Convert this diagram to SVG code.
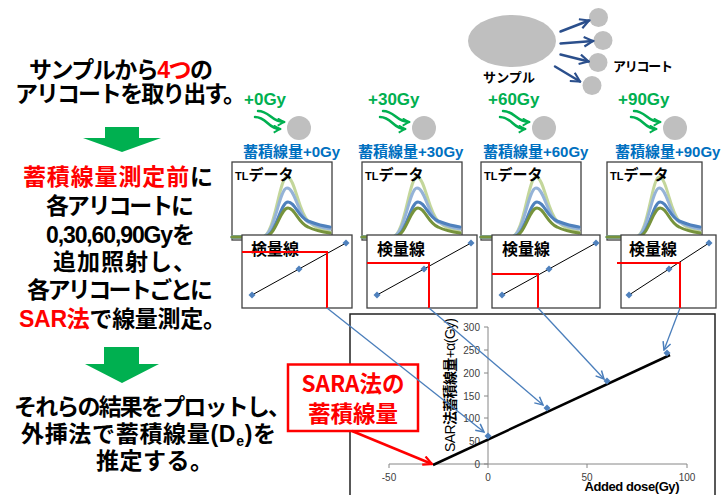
<svg xmlns="http://www.w3.org/2000/svg" width="721" height="495" viewBox="0 0 721 495">
  <style>
    .jp { font-family: "Liberation Sans", "Noto Sans CJK JP", sans-serif; font-weight: bold; }
    .cjk { font-family: "Noto Sans CJK JP", sans-serif; font-weight: bold; }
    .step { font-size: 23px; fill: #000; }
    .red { fill: #FF0000; }
    .gy { font-family: "Liberation Sans", sans-serif; font-weight: bold; font-size: 17px; fill: #00B050; }
    .acc { font-size: 15px; fill: #0070C0; }
    .frame { fill: #fff; stroke: #404040; stroke-width: 1.3; }
    .tl { fill: none; stroke-width: 3; stroke-linejoin: round; stroke-linecap: round; }
    .cal { fill: none; stroke: #000; stroke-width: 1; }
    .guide { fill: none; stroke: #FF0000; stroke-width: 2; }
    .axis { fill: none; stroke: #868686; stroke-width: 1; }
    .tick { font-family: "Liberation Sans", sans-serif; font-size: 10px; fill: #404040; }
    .wave { fill: none; stroke: #00B050; stroke-width: 2.5; stroke-linecap: round; }
    .split { fill: none; stroke: #2B4F8C; stroke-width: 2.5; stroke-linecap: round; }
    .link { fill: none; stroke: #4A7EBB; stroke-width: 1.3; }
    .aliquot { fill: #BFBFBF; }
  </style>
  <defs>
    <marker id="ah-green" viewBox="0 0 10 10" refX="8" refY="5" markerWidth="9" markerHeight="9" markerUnits="userSpaceOnUse" orient="auto">
      <path d="M1,1 L8,5 L1,9" fill="none" stroke="#00B050" stroke-width="2"/>
    </marker>
    <marker id="ah-navy" viewBox="0 0 10 10" refX="8.5" refY="5" markerWidth="12" markerHeight="12" markerUnits="userSpaceOnUse" orient="auto">
      <path d="M1,1 L8.5,5 L1,9" fill="none" stroke="#2B4F8C" stroke-width="1.8"/>
    </marker>
    <marker id="ah-blue" viewBox="0 0 10 10" refX="9" refY="5" markerWidth="10" markerHeight="10" markerUnits="userSpaceOnUse" orient="auto">
      <path d="M1,1 L9,5 L1,9" fill="none" stroke="#4A7EBB" stroke-width="1.5"/>
    </marker>
    <marker id="ah-red" viewBox="0 0 10 10" refX="9" refY="5" markerWidth="11" markerHeight="11" markerUnits="userSpaceOnUse" orient="auto">
      <path d="M1,1 L9,5 L1,9" fill="none" stroke="#FF0000" stroke-width="2"/>
    </marker>
    <path id="dm" d="M0,-3.5 L3.5,0 L0,3.5 L-3.5,0Z" fill="#4F81BD"/>
    <!-- glow curves, origin at the box's left baseline -->
    <g id="tl-curves">
      <path class="tl" stroke="#C3D69B" d="M0,0 L30,0 C43,0 47,-60 55,-60 C63,-60 66,-26 76,-16 C84,-9 90,-6 98,-5"/>
      <path class="tl" stroke="#95B3D7" d="M0,0 L30,0 C43,0 47,-49 55,-49 C63,-49 66,-22 76,-15 C84,-11 90,-9 98,-8"/>
      <path class="tl" stroke="#4F81BD" d="M0,0 L32,0 C44,0 48,-35 56,-35 C63,-35 66,-20 76,-16 C84,-13 90,-11 98,-10"/>
      <path class="tl" stroke="#77933C" d="M0,0 L32,0 C44,0 48,-29 56,-29 C63,-29 66,-14 76,-10 C84,-6 90,-5 98,-4"/>
    </g>
    <g id="waves">
      <path class="wave" marker-end="url(#ah-green)" d="M-41,-17 C-29,-17 -28,-6 -15,-6"/>
      <path class="wave" marker-end="url(#ah-green)" d="M-44,-11 C-32,-11 -31,1 -19,1"/>
    </g>
  </defs>

  <!-- procedure text, left column -->
  <g id="steps" class="jp step">
    <text x="29" y="78" textLength="184">サンプルから<tspan class="red">4つ</tspan>の</text>
    <text x="15" y="102" textLength="231">アリコートを取り出す。</text>
    <polygon points="105,127 139,127 139,138 161,138 122,152 83,138 105,138" fill="#00B050"/>
    <text x="23" y="185" textLength="190"><tspan class="red">蓄積線量測定前</tspan>に</text>
    <text x="46" y="214" textLength="148">各アリコートに</text>
    <text x="46" y="243" textLength="149">0,30,60,90Gyを</text>
    <text x="53" y="270" textLength="143">追加照射し、</text>
    <text x="27" y="298" textLength="186">各アリコートごとに</text>
    <text x="19" y="327" textLength="207"><tspan class="red">SAR法</tspan>で線量測定。</text>
    <polygon points="104,347 139,347 139,364 159,364 122,383 85,364 104,364" fill="#00B050"/>
    <text x="14" y="415" textLength="277">それらの結果をプロットし、</text>
    <text x="21" y="442" textLength="255">外挿法で蓄積線量(D<tspan font-size="14" dy="4">e</tspan><tspan dy="-4">)を</tspan></text>
    <text x="96" y="469" textLength="117">推定する。</text>
  </g>

  <!-- sample split into four aliquots -->
  <g id="sample">
    <ellipse cx="512" cy="41" rx="44" ry="26" class="aliquot"/>
    <text x="483" y="82" class="cjk" font-size="13" textLength="52">サンプル</text>
  </g>
  <g id="aliquots">
    <circle cx="598.5" cy="17.5" r="9.5" class="aliquot"/>
    <circle cx="603" cy="40.5" r="9.5" class="aliquot"/>
    <circle cx="598" cy="62.5" r="9.5" class="aliquot"/>
    <circle cx="592" cy="85.5" r="9.5" class="aliquot"/>
    <text x="613" y="71" class="cjk" font-size="13" textLength="60">アリコート</text>
  </g>

  <!-- added irradiation for each aliquot -->
  <g id="dose-0">
    <text x="244" y="105" class="gy">+0Gy</text>
    <use href="#waves" x="299" y="128"/>
    <circle cx="299" cy="128" r="12" class="aliquot"/>
    <text x="243" y="157" class="jp acc">蓄積線量+0Gy</text>
  </g>
  <g id="dose-30">
    <text x="368" y="105" class="gy">+30Gy</text>
    <use href="#waves" x="424" y="128"/>
    <circle cx="424" cy="128" r="12" class="aliquot"/>
    <text x="358" y="157" class="jp acc">蓄積線量+30Gy</text>
  </g>
  <g id="dose-60">
    <text x="488" y="105" class="gy">+60Gy</text>
    <use href="#waves" x="544" y="128"/>
    <circle cx="544" cy="128" r="12" class="aliquot"/>
    <text x="483" y="157" class="jp acc">蓄積線量+60Gy</text>
  </g>
  <g id="dose-90">
    <text x="618" y="105" class="gy">+90Gy</text>
    <use href="#waves" x="675" y="128"/>
    <circle cx="675" cy="128" r="12" class="aliquot"/>
    <text x="615" y="157" class="jp acc">蓄積線量+90Gy</text>
  </g>

  <!-- TL glow curves -->
  <g id="tl-1">
    <rect x="232" y="162" width="100" height="78" class="frame"/>
    <use href="#tl-curves" transform="translate(232,237)"/>
    <text x="235" y="180" class="jp" font-size="15"><tspan font-size="11">TL</tspan>データ</text>
  </g>
  <g id="tl-2">
    <rect x="362" y="162" width="100" height="78" class="frame"/>
    <use href="#tl-curves" transform="translate(362,237)"/>
    <text x="365" y="180" class="jp" font-size="15"><tspan font-size="11">TL</tspan>データ</text>
  </g>
  <g id="tl-3">
    <rect x="481" y="162" width="100" height="78" class="frame"/>
    <use href="#tl-curves" transform="translate(481,237)"/>
    <text x="484" y="180" class="jp" font-size="15"><tspan font-size="11">TL</tspan>データ</text>
  </g>
  <g id="tl-4">
    <rect x="607" y="162" width="95" height="78" class="frame"/>
    <use href="#tl-curves" transform="translate(607,237) scale(0.95,1)"/>
    <text x="610" y="180" class="jp" font-size="15"><tspan font-size="11">TL</tspan>データ</text>
  </g>

  <!-- calibration curves -->
  <g id="cal-1">
    <rect x="242" y="235" width="110" height="73" class="frame"/>
    <text x="251" y="255" class="cjk" font-size="16">検量線</text>
    <path class="cal" d="M252,295 L346,243"/>
    <use href="#dm" x="252" y="295"/><use href="#dm" x="299" y="269"/><use href="#dm" x="346" y="243"/>
    <path class="guide" d="M242,252 H327 V308"/>
  </g>
  <g id="cal-2">
    <rect x="367" y="235" width="110" height="73" class="frame"/>
    <text x="377" y="255" class="cjk" font-size="16">検量線</text>
    <path class="cal" d="M377,295 L471,243"/>
    <use href="#dm" x="377" y="295"/><use href="#dm" x="424" y="269"/><use href="#dm" x="471" y="243"/>
    <path class="guide" d="M367,263 H429 V308"/>
  </g>
  <g id="cal-3">
    <rect x="492" y="235" width="108" height="73" class="frame"/>
    <text x="502" y="255" class="cjk" font-size="16">検量線</text>
    <path class="cal" d="M502,295 L596,243"/>
    <use href="#dm" x="502" y="295"/><use href="#dm" x="549" y="269"/><use href="#dm" x="596" y="243"/>
    <path class="guide" d="M492,274 H538 V308"/>
  </g>
  <g id="cal-4">
    <rect x="621" y="235" width="95" height="73" class="frame"/>
    <text x="629" y="255" class="cjk" font-size="16">検量線</text>
    <path class="cal" d="M629,295 L709,243"/>
    <use href="#dm" x="629" y="295"/><use href="#dm" x="669" y="269"/><use href="#dm" x="709" y="243"/>
    <path class="guide" d="M617,263 H680 V308"/>
  </g>

  <!-- additive-dose plot -->
  <g id="plot">
    <rect x="350" y="314" width="365" height="190" fill="#fff" stroke="#222" stroke-width="1.5"/>
    <path class="axis" d="M488,327 V464 M389,464 H687"/>
    <path class="axis" d="M484,327 H488 M484,350 H488 M484,373 H488 M484,396 H488 M484,418 H488 M484,441 H488 M484,464 H488"/>
    <path class="axis" d="M389,464 V468 M488,464 V468 M587,464 V468 M687,464 V468"/>
    <g class="tick" text-anchor="end">
      <text x="480" y="331">300</text>
      <text x="480" y="354">250</text>
      <text x="480" y="377">200</text>
      <text x="480" y="400">150</text>
      <text x="480" y="422">100</text>
      <text x="480" y="445">50</text>
      <text x="480" y="468">0</text>
    </g>
    <g class="tick" text-anchor="middle">
      <text x="389" y="481">-50</text>
      <text x="488" y="481">0</text>
      <text x="587" y="481">50</text>
      <text x="687" y="481">100</text>
    </g>
    <path d="M433,465 L670,355" stroke="#000" stroke-width="2.5" fill="none"/>
    <use href="#dm" x="488" y="436"/>
    <use href="#dm" x="547" y="408"/>
    <use href="#dm" x="607" y="381"/>
    <use href="#dm" x="667" y="353"/>
    <text transform="translate(455,385) rotate(-90)" text-anchor="middle" font-family="Liberation Sans, Noto Sans CJK JP, sans-serif" font-size="14" fill="#000" textLength="134">SAR<tspan font-weight="bold">法蓄積線量</tspan>+α(Gy)</text>
    <text x="632" y="491" text-anchor="middle" font-family="Liberation Sans, sans-serif" font-weight="bold" font-size="13" fill="#000" textLength="95">Added dose(Gy)</text>
  </g>

  <g id="sara-box">
    <rect x="288" y="364.5" width="130" height="66.5" fill="#fff" stroke="#FF0000" stroke-width="2.5"/>
    <text x="353" y="392" text-anchor="middle" class="cjk red" font-size="22.5">SARA法の</text>
    <text x="353" y="422" text-anchor="middle" class="cjk red" font-size="22.5">蓄積線量</text>
  </g>

  <!-- arrows -->
  <g id="connectors">
    <path class="split" marker-end="url(#ah-navy)" d="M560.5,31.5 L589,20.5"/>
    <path class="split" marker-end="url(#ah-navy)" d="M560.5,43.5 L593,41"/>
    <path class="split" marker-end="url(#ah-navy)" d="M560.5,54.5 L588.5,61.5"/>
    <path class="split" marker-end="url(#ah-navy)" d="M555,66.5 L580,81.5"/>
    <path class="link" marker-end="url(#ah-blue)" d="M327,308 L484,432"/>
    <path class="link" marker-end="url(#ah-blue)" d="M429,308 L543,405"/>
    <path class="link" marker-end="url(#ah-blue)" d="M538,308 L604,379"/>
    <path class="link" marker-end="url(#ah-blue)" d="M680,308 L664,350"/>
    <path d="M352,431 L432,464" fill="none" stroke="#FF0000" stroke-width="2.5" marker-end="url(#ah-red)"/>
  </g>
</svg>
